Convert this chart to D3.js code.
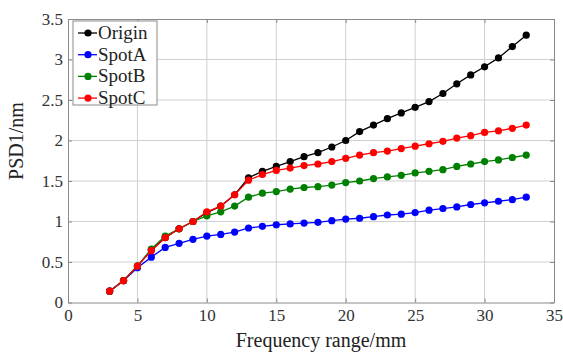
<!DOCTYPE html>
<html>
<head>
<meta charset="utf-8">
<script src="https://cdn.jsdelivr.net/npm/d3@7/dist/d3.min.js"></script>
<style>
  body { margin: 0; background: #fff; }
  svg { display: block; font-family: "Liberation Serif", "Times New Roman", serif; }
</style>
</head>
<body>
<svg id="chart" width="563" height="353"></svg>
<script>
'use strict';

var freq = d3.range(3, 34)   // 3..33 mm
var origin = [0.14, 0.27, 0.45, 0.65, 0.80, 0.91, 1.00, 1.11, 1.19, 1.33, 1.54, 1.62, 1.68, 1.74, 1.80, 1.85, 1.92,
    2.00, 2.11, 2.19, 2.27, 2.34, 2.41, 2.48, 2.58, 2.70, 2.81, 2.91, 3.02, 3.16, 3.30]
var spotA = [0.14, 0.27, 0.43, 0.56, 0.68, 0.73, 0.78, 0.82, 0.84, 0.87, 0.92, 0.94, 0.96, 0.97, 0.98, 0.99, 1.01,
    1.03, 1.04, 1.06, 1.08, 1.09, 1.11, 1.14, 1.16, 1.18, 1.21, 1.23, 1.25, 1.27, 1.30]
var spotB = [0.14, 0.27, 0.45, 0.66, 0.82, 0.91, 1.00, 1.07, 1.12, 1.19, 1.30, 1.35, 1.37, 1.40, 1.42, 1.43, 1.45,
    1.48, 1.50, 1.53, 1.55, 1.57, 1.60, 1.62, 1.64, 1.68, 1.71, 1.74, 1.76, 1.79, 1.82]
var spotC = [0.14, 0.27, 0.45, 0.64, 0.80, 0.91, 1.00, 1.12, 1.19, 1.33, 1.51, 1.58, 1.63, 1.66, 1.69, 1.71, 1.74,
    1.78, 1.82, 1.85, 1.87, 1.90, 1.93, 1.96, 1.99, 2.03, 2.06, 2.10, 2.12, 2.15, 2.19]

var seriesNames = ['Origin', 'SpotA', 'SpotB', 'SpotC']
var seriesValues = [origin, spotA, spotB, spotC]
var seriesColors = ['#000000', '#0000ff', '#008000', '#ff0000']
var xTicks = [0, 5, 10, 15, 20, 25, 30, 35]
var yTicks = [0, 0.5, 1, 1.5, 2, 2.5, 3, 3.5]

var chart = (function() {
    var svg = d3.select('#chart')
    var plotLeft = 68, plotRight = 554, plotTop = 19, plotBottom = 302.5

    var x = d3.scaleLinear().domain([0, 35]).range([plotLeft, plotRight])
    var y = d3.scaleLinear().domain([0, 3.5]).range([plotBottom, plotTop])

    // grid
    var grid = svg.append('g').attr('stroke', '#cfcfcf').attr('stroke-width', 1)
    grid.selectAll('line.gx').data(xTicks.slice(1, -1)).enter().append('line')
        .attr('x1', function(d) { return x(d) }).attr('x2', function(d) { return x(d) })
        .attr('y1', plotTop).attr('y2', plotBottom)
    grid.selectAll('line.gy').data(yTicks.slice(1, -1)).enter().append('line')
        .attr('y1', function(d) { return y(d) }).attr('y2', function(d) { return y(d) })
        .attr('x1', plotLeft).attr('x2', plotRight)

    // axes (ticks inside, box style)
    function styleAxis(g) {
        g.attr('font-family', null)
        g.select('.domain').attr('stroke', '#8a8a8a')
        g.selectAll('.tick line').attr('stroke', '#8a8a8a')
        g.selectAll('.tick text').attr('fill', '#333').style('font-size', '17px')
            .style('font-family', '"Liberation Serif", serif')
    }

    svg.append('g').attr('transform', 'translate(0,' + plotBottom + ')')
        .call(d3.axisBottom(x).tickValues(xTicks).tickSizeInner(-4).tickSizeOuter(0).tickPadding(6))
        .call(styleAxis)
    svg.append('g').attr('transform', 'translate(0,' + plotTop + ')')
        .call(d3.axisTop(x).tickValues(xTicks).tickSizeInner(-4).tickSizeOuter(0).tickFormat(''))
        .call(styleAxis)
    svg.append('g').attr('transform', 'translate(' + plotLeft + ',0)')
        .call(d3.axisLeft(y).tickValues(yTicks).tickSizeInner(-4).tickSizeOuter(0).tickPadding(5)
            .tickFormat(d3.format('~g')))
        .call(styleAxis)
    svg.append('g').attr('transform', 'translate(' + plotRight + ',0)')
        .call(d3.axisRight(y).tickValues(yTicks).tickSizeInner(-4).tickSizeOuter(0).tickFormat(''))
        .call(styleAxis)

    // series
    var line = d3.line()
        .x(function(d, i) { return x(freq[i]) })
        .y(function(d) { return y(d) })

    seriesValues.forEach(function(vals, k) {
        var g = svg.append('g')
        g.append('path').datum(vals)
            .attr('d', line)
            .attr('fill', 'none')
            .attr('stroke', seriesColors[k])
            .attr('stroke-width', 1.3)
        g.selectAll('circle').data(vals).enter().append('circle')
            .attr('cx', function(d, i) { return x(freq[i]) })
            .attr('cy', function(d) { return y(d) })
            .attr('r', 3.6)
            .attr('fill', seriesColors[k])
    })

    // legend
    var legend = svg.append('g').attr('transform', 'translate(73,21)')
    legend.append('rect').attr('width', 84).attr('height', 84)
        .attr('fill', '#fff').attr('stroke', '#8a8a8a')
    seriesNames.forEach(function(name, k) {
        var ly = 12 + k * 21.7
        legend.append('line').attr('x1', 5).attr('x2', 24).attr('y1', ly).attr('y2', ly)
            .attr('stroke', seriesColors[k]).attr('stroke-width', 1.3)
        legend.append('circle').attr('cx', 15).attr('cy', ly).attr('r', 3.6).attr('fill', seriesColors[k])
        legend.append('text').attr('x', 25).attr('y', ly + 6).text(name)
            .attr('fill', '#222').style('font-size', '19px')
    })

    // axis titles
    svg.append('text').attr('x', 321).attr('y', 347).attr('text-anchor', 'middle')
        .style('font-size', '20px').attr('fill', '#222').text('Frequency range/mm')
    svg.append('text').attr('transform', 'translate(23,141) rotate(-90)').attr('text-anchor', 'middle')
        .style('font-size', '20px').attr('fill', '#222').text('PSD1/nm')
}())
</script>
</body>
</html>
